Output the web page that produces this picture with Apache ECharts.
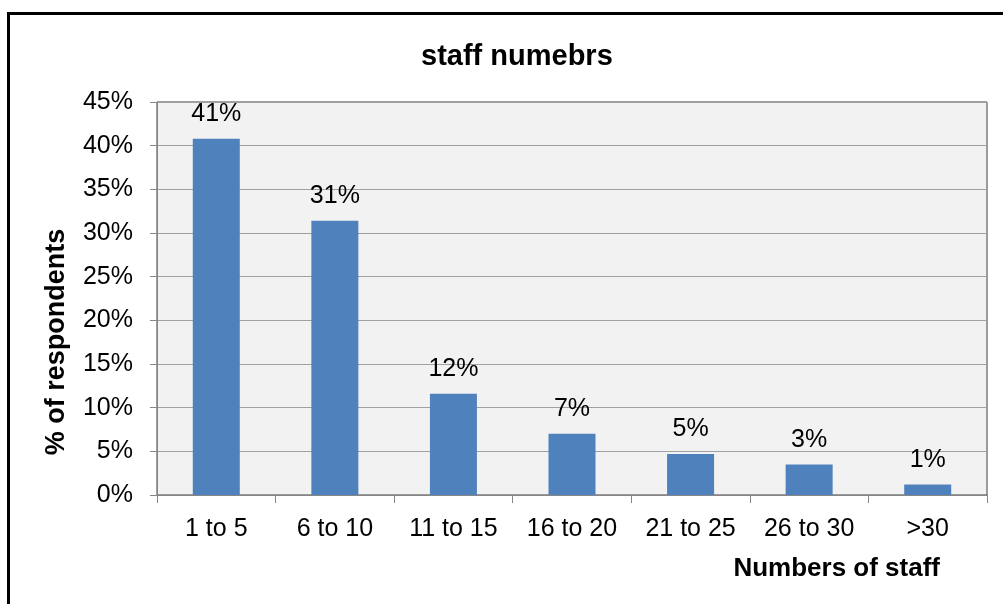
<!DOCTYPE html>
<html>
<head>
<meta charset="utf-8">
<script src="https://cdn.jsdelivr.net/npm/echarts@6/dist/echarts.min.js"></script>
<style>
html,body{margin:0;padding:0;background:#fff;}
#chart{width:1003px;height:604px;}
</style>
</head>
<body>
<div id="chart"></div>
<script>
var categories = ['1 to 5', '6 to 10', '11 to 15', '16 to 20', '21 to 25', '26 to 30', '>30'];
var values = [40.8, 31.4, 11.6, 7.0, 4.7, 3.5, 1.2];
var valueLabels = ['41%', '31%', '12%', '7%', '5%', '3%', '1%'];
var yTicks = [0, 5, 10, 15, 20, 25, 30, 35, 40, 45];

var FONT = '"Liberation Sans", Arial, sans-serif';
var chart = echarts.init(document.getElementById('chart'), null, {renderer: 'canvas'});
chart.setOption({
  backgroundColor: '#ffffff',
  animation: false,
  title: {
    text: 'staff numebrs',
    left: 416,
    top: 37,
    textStyle: {fontFamily: FONT, fontSize: 29, fontWeight: 'bold', color: '#000'}
  },
  grid: {
    left: 157, right: 16, top: 102, bottom: 109,
    show: true, backgroundColor: '#f2f2f2',
    borderColor: '#404040', borderWidth: 1
  },
  xAxis: {
    type: 'category',
    data: categories,
    boundaryGap: true,
    name: 'Numbers of staff',
    nameLocation: 'end',
    nameGap: 0,
    nameTextStyle: {fontFamily: FONT, fontSize: 26, fontWeight: 'bold', color: '#000',
      align: 'right', verticalAlign: 'top', padding: [61, 47, 0, 0]},
    axisLine: {lineStyle: {color: '#868686', width: 1}},
    axisTick: {show: true, length: 8, alignWithLabel: false, lineStyle: {color: '#868686'}},
    axisLabel: {fontFamily: FONT, fontSize: 25, color: '#000', margin: 22, interval: 0}
  },
  yAxis: {
    type: 'value',
    min: 0, max: 45, interval: 5,
    axisLine: {show: true, lineStyle: {color: '#868686', width: 1}},
    axisTick: {show: true, length: 7, lineStyle: {color: '#868686'}},
    splitLine: {show: true, lineStyle: {color: '#a0a0a0', width: 1}},
    axisLabel: {fontFamily: FONT, fontSize: 25, color: '#000', margin: 24,
      formatter: function (v) { return yTicks.indexOf(v) >= 0 ? v + '%' : ''; }}
  },
  series: [{
    type: 'bar',
    data: values,
    barWidth: 47,
    itemStyle: {color: '#4f81bd'},
    label: {
      show: true, position: 'top', distance: 12,
      fontFamily: FONT, fontSize: 25, color: '#000',
      formatter: function (p) { return valueLabels[p.dataIndex]; }
    }
  }],
  graphic: [
    {
      type: 'rect', z: 100, silent: true,
      shape: {x: 8.5, y: 13.5, width: 1100, height: 700},
      style: {fill: 'none', stroke: '#000', lineWidth: 3}
    },
    {
      type: 'text', z: 100,
      x: 57, y: 342, rotation: Math.PI / 2,
      style: {text: '% of respondents', fontFamily: FONT, fontSize: 27, fontWeight: 'bold',
        fill: '#000', align: 'center', verticalAlign: 'middle'}
    }
  ]
});
</script>
</body>
</html>
